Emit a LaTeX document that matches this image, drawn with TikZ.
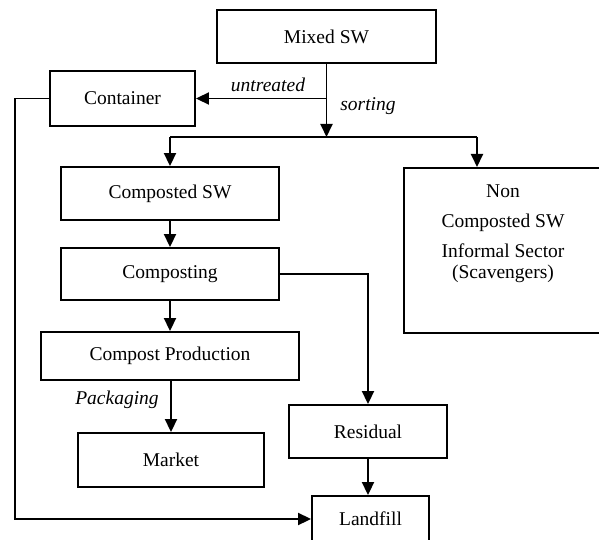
\documentclass[tikz,border=0pt]{standalone}
\usepackage{fontspec}
\setmainfont{Liberation Serif}
\usetikzlibrary{arrows.meta}
\begin{document}
\begin{tikzpicture}[x=1pt,y=-1pt,
  box/.style={draw, line width=1.9pt, inner sep=0pt, font=\fontsize{19.5}{22}\selectfont},
  lbl/.style={font=\fontsize{19.5}{22}\selectfont\itshape, inner sep=0pt},
  conn/.style={line width=1.9pt},
  arr/.style={line width=1.9pt, -{Triangle[length=13pt,width=12pt]}}]
\useasboundingbox (0,0) rectangle (599,540);
\clip (0,0) rectangle (599,540);
\node[box, minimum width=219pt, minimum height=53pt] (mixed) at (326.5,36.5) {Mixed SW};
\node[box, minimum width=145pt, minimum height=55pt] (container) at (122.5,98.5) {Container};
\node[box, minimum width=218pt, minimum height=53pt] (compsw) at (170,193.5) {Composted SW};
\node[box, minimum width=218pt, minimum height=52pt] (composting) at (170,274) {Composting};
\node[box, minimum width=258pt, minimum height=48pt] (prod) at (170,356) {Compost Production};
\node[box, minimum width=186pt, minimum height=54pt] (market) at (171,460) {Market};
\node[box, minimum width=158pt, minimum height=53pt] (residual) at (368,431.5) {Residual};
\node[box, minimum width=117pt, minimum height=46pt] (landfill) at (370.5,519) {Landfill};
\node[box, minimum width=200pt, minimum height=165pt, anchor=north west] (non) at (403,167) {};
\node[font=\fontsize{19.5}{21}\selectfont, align=center, anchor=north, inner sep=0pt] (nontext) at (503,185)
  {Non\\[9pt]Composted SW\\[9pt]Informal Sector\\(Scavengers)};
\coordinate (branch) at (mixed.south |- container.east);
\coordinate (split) at (326.5,137);
\coordinate (splitL) at (compsw.north |- split);
\coordinate (splitR) at (477,137);
\coordinate (leftTop) at (15,98.5);
\coordinate (leftBot) at (15,519);
\coordinate (resTop) at (residual.north |- composting.east);
\draw[arr] (mixed.south) -- (split);
\draw[arr] (branch) -- (container.east);
\draw[conn] (splitL) -- (splitR);
\draw[arr] (splitL) -- (compsw.north);
\draw[arr] (splitR) -- (splitR |- non.north);
\draw[arr] (compsw.south) -- (composting.north);
\draw[arr] (composting.south) -- (prod.north);
\draw[arr] (prod.south -| market.north) -- (market.north);
\draw[arr] (composting.east) -- (resTop) -- (residual.north);
\draw[arr] (residual.south) -- (residual.south |- landfill.north);
\draw[arr] (container.west) -- (leftTop) -- (leftBot) -- (landfill.west);
\node[lbl] (untreated) at (268,85) {untreated};
\node[lbl] (sorting) at (368,106) {sorting};
\node[lbl] (packaging) at (117,400) {Packaging};
\end{tikzpicture}
\end{document}
